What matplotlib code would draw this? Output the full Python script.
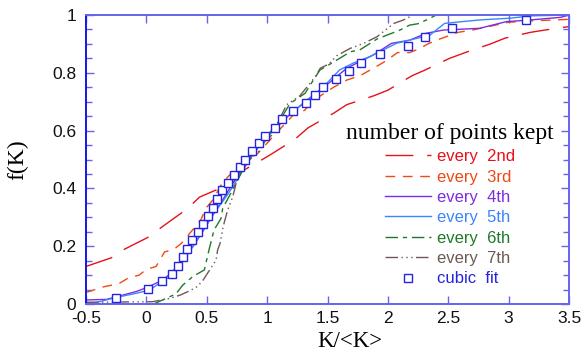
import numpy as np
import matplotlib
matplotlib.use("Agg")
import matplotlib.pyplot as plt
from matplotlib.ticker import MultipleLocator, FormatStrFormatter

plt.rcParams['axes.unicode_minus'] = False
plt.rcParams['lines.scale_dashes'] = False

# every 2nd point kept
x2 = [-0.5, -0.29, -0.18, 0.01, 0.14, 0.34, 0.44, 0.72, 0.75, 0.92, 1.04, 1.23, 1.34, 1.55,
      1.66, 1.88, 2.0, 2.2, 2.31, 2.51, 2.64, 2.85, 2.97, 3.18, 3.3, 3.5]
y2 = [0.13, 0.16, 0.19, 0.23, 0.27, 0.33, 0.37, 0.42, 0.45, 0.49, 0.52, 0.57, 0.61, 0.66,
      0.69, 0.72, 0.74, 0.79, 0.81, 0.85, 0.87, 0.90, 0.92, 0.94, 0.948, 0.96]

# every 3rd
x3 = [-0.5, -0.35, -0.23, -0.15, -0.06, 0.0, 0.08, 0.15, 0.23, 0.29, 0.33, 0.39, 0.45, 0.49,
      0.55, 0.59, 0.63, 0.72, 0.83, 0.92, 1.05, 1.23, 1.31, 1.37, 1.44, 1.55, 1.66, 1.77,
      1.98, 2.08, 2.18, 2.27, 2.33, 2.43, 2.58, 2.7, 3.0, 3.2, 3.5]
y3 = [0.04, 0.06, 0.07, 0.09, 0.10, 0.12, 0.13, 0.18, 0.19, 0.21, 0.23, 0.26, 0.29, 0.33,
      0.36, 0.39, 0.42, 0.46, 0.50, 0.52, 0.58, 0.66, 0.67, 0.70, 0.72, 0.75, 0.775, 0.79,
      0.84, 0.87, 0.87, 0.885, 0.90, 0.917, 0.94, 0.948, 0.975, 0.98, 0.985]

# every 4th
x4 = [-0.5, -0.33, -0.25, -0.086, 0.01, 0.135, 0.218, 0.30, 0.384, 0.466, 0.549, 0.632, 0.715,
      0.798, 0.88, 0.98, 1.1, 1.2, 1.33, 1.44, 1.576, 1.66, 1.74, 1.88, 2.03, 2.18, 2.32,
      2.46, 2.76, 2.98, 3.18, 3.43, 3.5]
y4 = [0.014, 0.016, 0.025, 0.043, 0.058, 0.083, 0.112, 0.158, 0.198, 0.25, 0.308, 0.36, 0.418,
      0.464, 0.52, 0.575, 0.625, 0.66, 0.706, 0.74, 0.787, 0.816, 0.833, 0.862, 0.902, 0.913,
      0.937, 0.948, 0.954, 0.977, 0.983, 0.992, 1.0]

# every 5th
x5 = [-0.5, -0.417, -0.334, -0.224, -0.086, 0.024, 0.107, 0.19, 0.273, 0.328, 0.41, 0.494,
      0.59, 0.66, 0.715, 0.80, 0.88, 0.98, 1.1, 1.23, 1.35, 1.45, 1.52, 1.60, 1.71, 1.85,
      1.96, 2.07, 2.18, 2.35, 2.40, 2.47, 2.54, 2.76, 3.01, 3.18, 3.5]
y5 = [0.005, 0.005, 0.014, 0.025, 0.037, 0.048, 0.071, 0.094, 0.135, 0.164, 0.216, 0.273,
      0.331, 0.371, 0.406, 0.464, 0.515, 0.57, 0.62, 0.671, 0.71, 0.745, 0.775, 0.81, 0.833,
      0.856, 0.879, 0.902, 0.913, 0.931, 0.948, 0.971, 0.974, 0.983, 0.989, 0.997, 1.0]

# every 6th
x6 = [0.06, 0.245, 0.30, 0.384, 0.48, 0.52, 0.56, 0.618, 0.632, 0.728, 0.784, 0.825, 0.908,
      0.996, 1.107, 1.19, 1.314, 1.383, 1.438, 1.52, 1.60, 1.69, 1.77, 1.91, 1.99, 2.1, 2.18,
      2.25, 2.32, 2.40]
y6 = [0.0, 0.035, 0.065, 0.095, 0.118, 0.19, 0.256, 0.296, 0.331, 0.406, 0.452, 0.487, 0.54,
      0.579, 0.637, 0.694, 0.729, 0.775, 0.81, 0.83, 0.85, 0.873, 0.88, 0.917, 0.93, 0.948,
      0.965, 0.97, 0.983, 1.0]

# every 7th
x7 = [-0.5, 0.05, 0.2, 0.28, 0.36, 0.42, 0.47, 0.535, 0.577, 0.59, 0.61, 0.637, 0.673, 0.715,
      0.76, 0.83, 0.935, 0.98, 1.04, 1.16, 1.27, 1.40, 1.44, 1.51, 1.576, 1.69, 1.80, 1.91,
      2.05, 2.13, 2.21]
y7 = [0.006, 0.008, 0.02, 0.031, 0.046, 0.06, 0.083, 0.125, 0.152, 0.187, 0.21, 0.27, 0.325,
      0.371, 0.446, 0.49, 0.53, 0.562, 0.585, 0.689, 0.72, 0.787, 0.816, 0.83, 0.859, 0.885,
      0.902, 0.925, 0.971, 0.983, 1.0]

# cubic fit markers
xfit = [-0.25, 0.01, 0.13, 0.215, 0.264, 0.30, 0.334, 0.378, 0.428, 0.472, 0.513, 0.554, 0.587,
        0.626, 0.675, 0.723, 0.775, 0.817, 0.872, 0.933, 0.982, 1.065, 1.126, 1.217, 1.322,
        1.396, 1.465, 1.568, 1.68, 1.78, 1.935, 2.17, 2.31, 2.53, 3.14]
yfit = [0.022, 0.052, 0.078, 0.104, 0.133, 0.161, 0.19, 0.22, 0.249, 0.277, 0.305, 0.332, 0.362,
        0.393, 0.42, 0.446, 0.473, 0.50, 0.53, 0.558, 0.581, 0.61, 0.639, 0.667, 0.694, 0.722,
        0.752, 0.78, 0.807, 0.835, 0.864, 0.893, 0.925, 0.954, 0.983]

labels = ['every  2nd', 'every  3rd', 'every  4th', 'every  5th', 'every  6th', 'every  7th']
colors = ['#e8101a', '#ee4a14', '#7a2ee0', '#3a86ff', '#1e7a2a', '#6e5a54']
styles = [(0, (20, 10)), (0, (7, 5.5)), '-', '-', (0, (9, 3.5, 3, 3.5)),
          (0, (9, 2.5, 1, 2.5, 1, 2.5, 1, 2.5))]
series = [(x2, y2), (x3, y3), (x4, y4), (x5, y5), (x6, y6), (x7, y7)]

fig = plt.figure(figsize=(5.84, 3.56), dpi=100)
ax = fig.add_axes([0.1473, 0.146, 0.827, 0.8118])

for (xs, ys), lab, c, ls in zip(series, labels, colors, styles):
    ax.plot(xs, ys, color=c, linestyle=ls, lw=1.0, label=lab)
ax.plot(xfit, yfit, linestyle='none', marker='s', ms=5.5, mfc='white', mec='#2424e0',
        mew=1.0, color='#2424e0', label='cubic  fit', zorder=5)

ax.set_xlim(-0.5, 3.5)
ax.set_ylim(0, 1)
ax.xaxis.set_major_locator(MultipleLocator(0.5))
ax.yaxis.set_major_locator(MultipleLocator(0.2))
ax.yaxis.set_minor_locator(MultipleLocator(0.05))
ax.xaxis.set_major_formatter(FormatStrFormatter('%g'))
ax.yaxis.set_major_formatter(FormatStrFormatter('%g'))

axcol = '#6464ee'
for side in ['top', 'right', 'bottom']:
    ax.spines[side].set_color(axcol)
    ax.spines[side].set_linewidth(1.4)
ax.spines['left'].set_color('#1414ee')
ax.spines['left'].set_linewidth(1.4)
ax.tick_params(which='both', direction='in', top=True, right=True, color=axcol, width=1.0)
ax.tick_params(which='major', length=6, labelsize=12.5)
ax.tick_params(axis='y', which='major', pad=7)
ax.tick_params(axis='x', which='major', pad=5)
ax.tick_params(which='minor', length=4)
for t in ax.get_xticklabels() + ax.get_yticklabels():
    t.set_fontfamily('Liberation Sans')
    t.set_color('#111111')

ax.set_xlabel('K/<K>', family='Liberation Serif', fontsize=16.5)
ax.set_ylabel('f(K)', family='Liberation Serif', fontsize=17)
ax.xaxis.set_label_coords((350 - 86) / 483, -0.093)
ax.yaxis.set_label_coords(-0.12, 0.5)

leg = ax.legend(loc='upper center', bbox_to_anchor=(450 / 584, (356 - 123) / 356),
                bbox_transform=fig.transFigure, frameon=False, borderpad=0, borderaxespad=0,
                title='number of points kept',
                title_fontproperties={'family': 'Liberation Serif', 'size': 17},
                prop={'family': 'Liberation Sans', 'size': 12},
                handlelength=2.8, handletextpad=0.35, labelspacing=0.32, numpoints=1,
                labelcolor='linecolor')

fig.savefig('out.png', dpi=100)
